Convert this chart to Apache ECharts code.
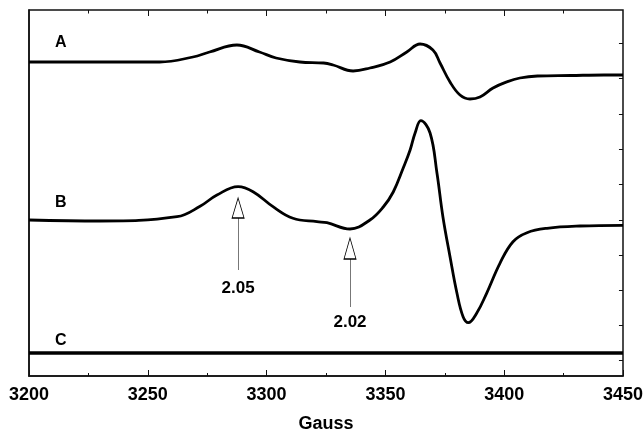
<!DOCTYPE html>
<html>
<head>
<meta charset="utf-8">
<script src="https://cdn.jsdelivr.net/npm/echarts@6/dist/echarts.min.js"></script>
<style>
  html, body { margin: 0; padding: 0; background: #fff; }
  #chart { width: 644px; height: 431px; }
</style>
</head>
<body>
<div id="chart"></div>
<script>
// field (Gauss) and signal (arbitrary units, offset per trace)
const fieldA = [3200, 3230, 3255, 3269, 3276, 3287.5, 3297, 3304, 3314, 3324, 3328, 3336.4, 3343.5, 3352, 3359, 3364.6, 3370, 3373, 3377.2, 3381.4, 3385.6, 3389.8, 3395.3, 3401, 3406.6, 3414, 3428, 3442, 3450];
const signalA = [314, 314, 314, 319, 324, 331, 324, 318, 314, 313, 311, 305, 308, 314, 324, 332, 326, 313, 294, 281, 277, 279, 288, 294, 298, 300, 300.5, 301, 301];

const fieldB = [3200, 3229.9, 3262.3, 3272, 3279.1, 3288, 3294.3, 3302.7, 3311.1, 3321.2, 3325.4, 3335.1, 3343.5, 3349.1, 3353.3, 3357.5, 3360.4, 3362.5, 3364.9, 3368.8, 3371.7, 3374.2, 3377.2, 3380.1, 3382.7, 3384.9, 3388.4, 3392.6, 3398.2, 3403.7, 3409.6, 3418, 3431.9, 3450];
const signalB = [156, 155, 159.3, 169.7, 181, 189.3, 184.3, 169.3, 157.7, 154.3, 153.3, 147, 156, 169, 184, 208, 226, 243, 255.3, 243, 203, 159.3, 119.3, 83, 59.3, 53.3, 62.7, 82.7, 112.7, 134.3, 143.3, 147.7, 150, 150.7];

const fieldC = [3200, 3450];
const signalC = [23, 23];

const xTicks = [3200, 3250, 3300, 3350, 3400, 3450];
const topMajor = [3250, 3300, 3350, 3400];
const topMinor = [3225, 3275, 3325, 3375, 3425];
const rightTicks = [16, 51, 86, 121, 156, 192, 227, 262, 298, 333];

// g-value markers on trace B
const markerField = [3288, 3335.1];
const markerText = ['2.05', '2.02'];

const font = '"Liberation Sans", Arial, Helvetica, sans-serif';
const chart = echarts.init(document.getElementById('chart'));

const X_MIN = xTicks[0];
const X_MAX = xTicks[xTicks.length - 1];
const Y_MAX = 366;

const pairs = (xs, ys) => xs.map((x, i) => [x, ys[i]]);
const textLabel = (coord, text) => ({
  coord: coord, symbol: 'circle', symbolSize: 1, itemStyle: { color: 'rgba(0,0,0,0)' },
  label: { show: true, position: 'inside', formatter: text, fontFamily: font, fontWeight: 'bold', fontSize: 17, color: '#000' }
});
const arrowHead = (coord, h) => ({
  coord: coord, symbol: 'triangle', symbolSize: [12, h],
  itemStyle: { color: '#fff', borderColor: '#000', borderWidth: 1 }, label: { show: false }
});

// inward ticks on the top and right edges of the frame
const frameTicks = []
  .concat(topMajor.map((x) => [{ coord: [x, Y_MAX] }, { coord: [x, Y_MAX - 6] }]))
  .concat(topMinor.map((x) => [{ coord: [x, Y_MAX] }, { coord: [x, Y_MAX - 3.5] }]))
  .concat(rightTicks.map((y) => [{ coord: [X_MAX, y] }, { coord: [X_MAX - 1.7, y] }]));

const option = {
  animation: false,
  backgroundColor: '#fff',
  grid: {
    left: 29, right: 21, top: 10, bottom: 55,
    outerBoundsMode: 'none',
    show: true, borderColor: '#111', borderWidth: 1.5
  },
  xAxis: {
    type: 'value',
    min: X_MIN,
    max: X_MAX,
    interval: 50,
    position: 'bottom',
    axisLine: { show: true, onZero: false, lineStyle: { color: '#111', width: 1.5 } },
    axisTick: { show: true, inside: true, length: 6, lineStyle: { color: '#111', width: 1 } },
    minorTick: { show: true, splitNumber: 2, length: 3, lineStyle: { color: '#111', width: 1 } },
    splitLine: { show: false },
    axisLabel: {
      fontFamily: font, fontWeight: 'bold', fontSize: 18, color: '#000', margin: 10,
      formatter: (v) => String(v)
    },
    name: 'Gauss',
    nameLocation: 'middle',
    nameGap: 39,
    nameTextStyle: { fontFamily: font, fontWeight: 'bold', fontSize: 18, color: '#000' }
  },
  yAxis: {
    type: 'value',
    min: 0,
    max: Y_MAX,
    position: 'left',
    axisLine: { show: true, lineStyle: { color: '#111', width: 1.5 } },
    axisTick: { show: false },
    axisLabel: { show: false },
    splitLine: { show: false }
  },
  series: [
    {
      name: 'A',
      type: 'line',
      data: pairs(fieldA, signalA),
      smooth: 0.4,
      showSymbol: false,
      lineStyle: { color: '#000', width: 2.8 }
    },
    {
      name: 'B',
      type: 'line',
      data: pairs(fieldB, signalB),
      smooth: 0.4,
      showSymbol: false,
      lineStyle: { color: '#000', width: 2.8 },
      markLine: {
        silent: true,
        symbol: 'none',
        label: { show: false },
        lineStyle: { color: '#777', width: 1, type: 'solid' },
        data: [
          [{ coord: [markerField[0], 158] }, { coord: [markerField[0], 106] }],
          [{ coord: [markerField[1], 117] }, { coord: [markerField[1], 69] }]
        ]
      },
      markPoint: {
        silent: true,
        data: [
          arrowHead([markerField[0], 168], 20),
          arrowHead([markerField[1], 127.5], 21),
          textLabel([markerField[0], 88], markerText[0]),
          textLabel([markerField[1], 54], markerText[1])
        ]
      }
    },
    {
      name: 'C',
      type: 'line',
      data: pairs(fieldC, signalC),
      showSymbol: false,
      lineStyle: { color: '#000', width: 3.5 },
      markLine: {
        silent: true,
        symbol: 'none',
        label: { show: false },
        lineStyle: { color: '#111', width: 1, type: 'solid' },
        data: frameTicks
      }
    }
  ],
  graphic: [
    { type: 'text', left: 55, top: 35, style: { text: 'A', font: 'bold 16px ' + font, fill: '#000' } },
    { type: 'text', left: 55, top: 195, style: { text: 'B', font: 'bold 16px ' + font, fill: '#000' } },
    { type: 'text', left: 55, top: 333, style: { text: 'C', font: 'bold 16px ' + font, fill: '#000' } }
  ]
};

chart.setOption(option);
</script>
</body>
</html>
